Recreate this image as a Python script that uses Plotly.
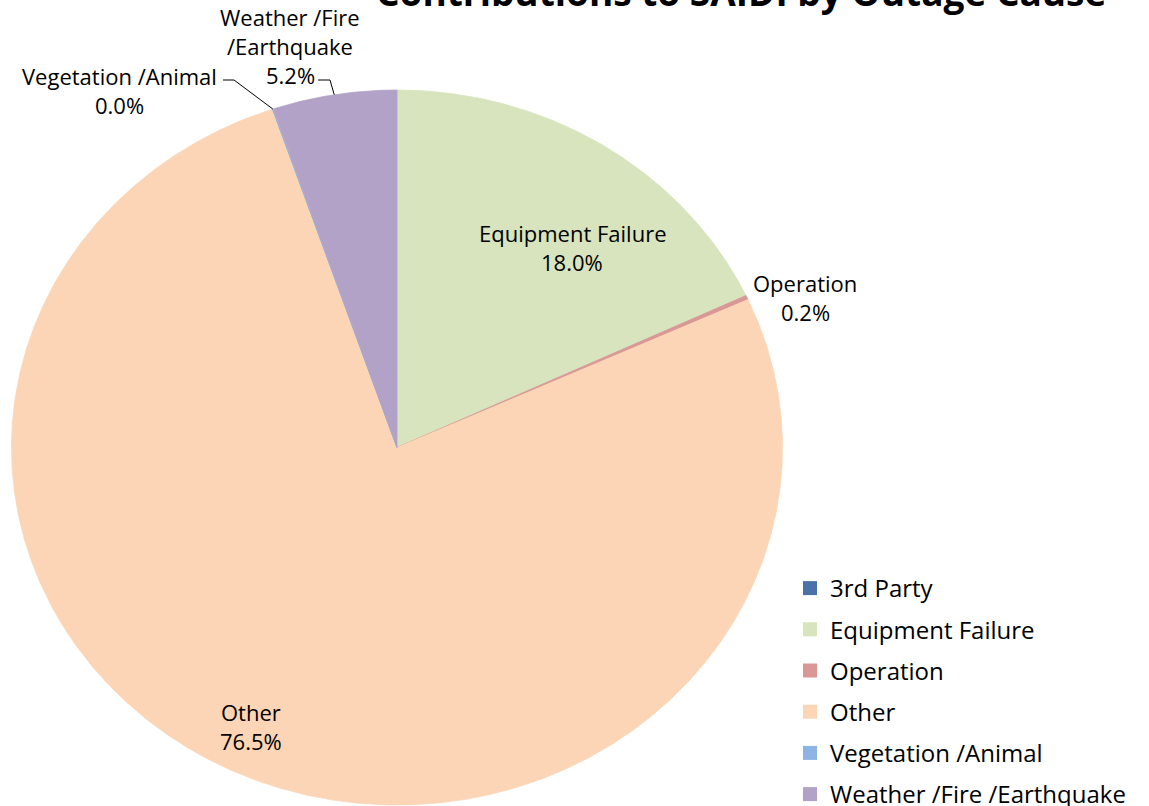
import numpy as np
import plotly.graph_objects as go

# Contribution of each outage cause to SAIDI (percent)
causes = ["3rd Party", "Equipment Failure", "Operation", "Other",
          "Vegetation /Animal", "Weather /Fire /Earthquake"]
shares = [0.0, 18.0, 0.2, 76.5, 0.03, 5.2]
colors = ["#4A72A8", "#D7E4BD", "#D99795", "#FBD5B5", "#8DB4E2", "#B2A2C7"]

# Data-label text lines (name part) for the labelled slices
label_names = {
    "Equipment Failure": ["Equipment Failure"],
    "Operation": ["Operation"],
    "Other": ["Other"],
    "Vegetation /Animal": ["Vegetation /Animal"],
    "Weather /Fire /Earthquake": ["Weather /Fire", "/Earthquake"],
}

# Pixel-space layout: the plot area spans the whole page
W, H = 1149, 806
CX, CY = 397.0, 447.5      # pie centre
RX, RY = 385.5, 357.5      # horizontal / vertical radii (pie is drawn stretched)

# label anchor (centre x, first-line centre y) and leader-line elbows
label_pos = {
    "Equipment Failure": (572, 233),
    "Operation": (805, 283),
    "Other": (251, 712),
    "Vegetation /Animal": (119, 76),
    "Weather /Fire /Earthquake": (290, 17),
}
leader_elbows = {
    "Vegetation /Animal": [(223, 80), (234, 80)],
    "Weather /Fire /Earthquake": [(318, 80), (330, 80)],
}
LINE_GAP = 29
FONT = "Open Sans"


def ellipse_point(theta_deg, frac=1.0):
    t = np.radians(theta_deg)
    return CX + frac * RX * np.sin(t), CY - frac * RY * np.cos(t)


total = sum(shares)
fig = go.Figure()

start = 0.0
mid_angles = {}
for name, val, col in zip(causes, shares, colors):
    sweep = 360.0 * val / total
    end = start + sweep
    mid_angles[name] = start + sweep / 2
    if val > 0:
        n = max(2, int(sweep * 4) + 2)
        th = np.linspace(start, end, n)
        ax, ay = ellipse_point(th)
        xs = np.concatenate([[CX], ax, [CX]])
        ys = np.concatenate([[CY], ay, [CY]])
        fig.add_trace(go.Scatter(
            x=xs, y=ys, mode="lines", fill="toself", fillcolor=col,
            line=dict(color=col, width=0.8), hoverinfo="skip",
            showlegend=False))
    start = end

# Leader lines from outside labels to slice edges
for name, elbows in leader_elbows.items():
    ex, ey = ellipse_point(mid_angles[name])
    xs = [p[0] for p in elbows] + [ex]
    ys = [p[1] for p in elbows] + [ey]
    fig.add_trace(go.Scatter(x=xs, y=ys, mode="lines",
                             line=dict(color="#000000", width=1),
                             hoverinfo="skip", showlegend=False))

# Legend entries
for i, (name, col) in enumerate(zip(causes, colors)):
    fig.add_trace(go.Scatter(
        x=[None], y=[None], mode="markers", name=name,
        legendgroup=f"g{i}",
        marker=dict(symbol="square", size=14, color=col)))

# Data labels
annotations = []
for name, val in zip(causes, shares):
    if name not in label_names:
        continue
    lines = label_names[name] + [f"{val:.1f}%"]
    lx, ly = label_pos[name]
    for k, txt in enumerate(lines):
        annotations.append(dict(
            x=lx, y=ly + k * LINE_GAP, xref="x", yref="y", text=txt,
            showarrow=False, xanchor="center", yanchor="middle",
            font=dict(family=FONT, size=22, color="#000000")))

# Title (sits partly above the top edge of the page)
annotations.append(dict(
    x=741 / W, y=1 + 9 / H, xref="paper", yref="paper",
    text="<b>Contributions to SAIDI by Outage Cause</b>",
    showarrow=False, xanchor="center", yanchor="middle",
    font=dict(family=FONT, size=37, color="#000000")))

fig.update_layout(
    width=W, height=H,
    margin=dict(l=0, r=0, t=0, b=0, autoexpand=False),
    paper_bgcolor="white", plot_bgcolor="white",
    xaxis=dict(range=[0, W], visible=False, fixedrange=True),
    yaxis=dict(range=[H, 0], visible=False, fixedrange=True),
    annotations=annotations,
    showlegend=True,
    legend=dict(
        x=790 / W, y=1 - 566 / H, xanchor="left", yanchor="top",
        traceorder="grouped", tracegroupgap=7,
        font=dict(family=FONT, size=24, color="#000000"),
        bgcolor="rgba(0,0,0,0)", itemclick=False, itemdoubleclick=False),
)

fig.write_html("out.html")
